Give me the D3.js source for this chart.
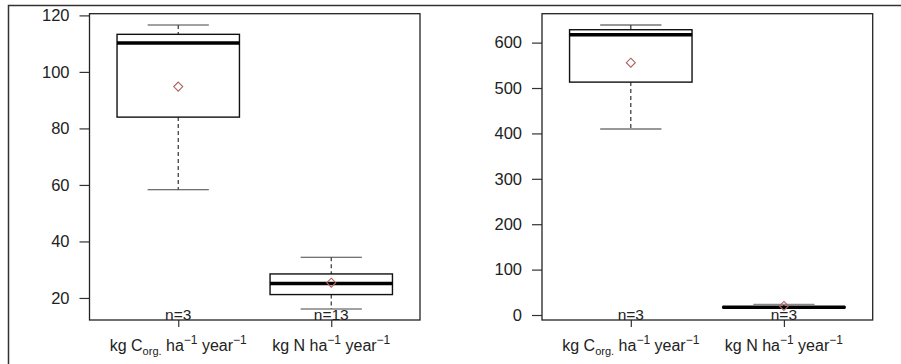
<!DOCTYPE html>
<html>
<head>
<meta charset="utf-8">
<script src="https://cdn.jsdelivr.net/npm/d3@7"></script>
<style>
  html, body { margin: 0; padding: 0; background: #fff; }
  svg { display: block; }
  text { font-family: "Liberation Sans", Arial, sans-serif; fill: #222; }
</style>
</head>
<body>
<svg id="chart" width="901" height="364"></svg>
<script>
// Group positions (1 = organic carbon, 2 = nitrogen)
const groups = [1, 2];

// Left panel: annual loads
const leftWhiskerLow  = [58.3, 16.1];
const leftQ1          = [84.0, 21.2];
const leftMedian      = [110.2, 25.1];
const leftQ3          = [113.3, 28.5];
const leftWhiskerHigh = [116.6, 34.4];
const leftMean        = [94.8, 25.4];
const leftN           = [3, 13];
const leftTicks       = [20, 40, 60, 80, 100, 120];

// Right panel: annual loads
const rightWhiskerLow  = [409.7, 15.5];
const rightQ1          = [513.0, 16.0];
const rightMedian      = [617.4, 17.0];
const rightQ3          = [628.4, 18.0];
const rightWhiskerHigh = [638.8, 23.5];
const rightMean        = [555.7, 20.0];
const rightN           = [3, 3];
const rightTicks       = [0, 100, 200, 300, 400, 500, 600];

const svg = d3.select("#chart");

// Outer frame (top and left edges)
svg.append("path")
  .attr("d", "M8.5,364 L8.5,5.5 L901,5.5")
  .attr("fill", "none").attr("stroke", "#333").attr("stroke-width", 1.5);

function panel(opts) {
  const g = svg.append("g");
  const x = d3.scaleLinear().domain([0.42, 2.58]).range([opts.left, opts.right]);
  const y = d3.scaleLinear().domain(opts.yDomain).range([320, 13.7]);
  const halfBox = 0.4, halfCap = 0.2;

  const stats = groups.map((grp, i) => ({
    grp,
    lo: opts.lo[i], q1: opts.q1[i], med: opts.med[i], q3: opts.q3[i],
    hi: opts.hi[i], mean: opts.mean[i], n: opts.n[i], capColor: opts.capColor[i]
  }));

  // y axis
  const ya = g.append("g")
    .attr("transform", `translate(${opts.left},0)`)
    .call(d3.axisLeft(y).tickValues(opts.ticks).tickSize(10).tickPadding(10));
  ya.attr("font-size", null).attr("font-family", null);
  ya.select(".domain").remove();
  ya.selectAll(".tick line").attr("stroke", "#333").attr("stroke-width", 1.2);
  ya.selectAll(".tick text")
    .attr("font-size", 16.5)
    .style("font-size", "16.5px")
    .style("font-family", "Liberation Sans, Arial, sans-serif")
    .attr("fill", "#2e2e2e");

  // x axis ticks
  const xa = g.append("g")
    .attr("transform", "translate(0,320)")
    .call(d3.axisBottom(x).tickValues(groups).tickSize(7).tickFormat(""));
  xa.select(".domain").remove();
  xa.selectAll(".tick line").attr("stroke", "#333").attr("stroke-width", 1.2);

  const b = g.selectAll("g.box").data(stats).join("g").attr("class", "box");

  // whiskers (dashed)
  b.append("line")
    .attr("x1", d => x(d.grp)).attr("x2", d => x(d.grp))
    .attr("y1", d => y(d.hi)).attr("y2", d => y(d.q3))
    .attr("stroke", "#333").attr("stroke-width", 1.2).attr("stroke-dasharray", "4,3");
  b.append("line")
    .attr("x1", d => x(d.grp)).attr("x2", d => x(d.grp))
    .attr("y1", d => y(d.q1)).attr("y2", d => y(d.lo))
    .attr("stroke", "#333").attr("stroke-width", 1.2).attr("stroke-dasharray", "4,3");

  // whisker caps
  b.append("line")
    .attr("x1", d => x(d.grp - halfCap)).attr("x2", d => x(d.grp + halfCap))
    .attr("y1", d => y(d.hi)).attr("y2", d => y(d.hi))
    .attr("stroke", d => d.capColor).attr("stroke-width", 1.2);
  b.append("line")
    .attr("x1", d => x(d.grp - halfCap)).attr("x2", d => x(d.grp + halfCap))
    .attr("y1", d => y(d.lo)).attr("y2", d => y(d.lo))
    .attr("stroke", d => d.capColor).attr("stroke-width", 1.2);

  // boxes
  b.append("rect")
    .attr("x", d => x(d.grp - halfBox))
    .attr("width", d => x(d.grp + halfBox) - x(d.grp - halfBox))
    .attr("y", d => y(d.q3))
    .attr("height", d => Math.max(0.5, y(d.q1) - y(d.q3)))
    .attr("fill", "#fff").attr("stroke", "#111").attr("stroke-width", 1.4);

  // medians
  b.append("line")
    .attr("x1", d => x(d.grp - halfBox)).attr("x2", d => x(d.grp + halfBox))
    .attr("y1", d => y(d.med)).attr("y2", d => y(d.med))
    .attr("stroke", "#000").attr("stroke-width", 3.5);

  // means (open diamonds)
  b.append("path")
    .attr("transform", d => `translate(${x(d.grp)},${y(d.mean)})`)
    .attr("d", "M0,-4.5 L4.5,0 L0,4.5 L-4.5,0 Z")
    .attr("fill", "none").attr("stroke", "#b0605e").attr("stroke-width", 1.1);

  // sample sizes
  b.append("text")
    .attr("x", d => x(d.grp)).attr("y", 319.5)
    .attr("text-anchor", "middle")
    .style("font-size", "15.5px")
    .text(d => `n=${d.n}`);

  // plot frame
  g.append("rect")
    .attr("x", opts.left).attr("y", 13.7)
    .attr("width", opts.right - opts.left).attr("height", 320 - 13.7)
    .attr("fill", "none").attr("stroke", "#222").attr("stroke-width", 1.3);

  // category labels with sub/superscripts
  const labels = [
    [["kg C", 0, 16], ["org.", 4, 11], [" ha", -4, 16], ["\u22121", -7, 12], [" year", 7, 16], ["\u22121", -7, 12]],
    [["kg N ha", 0, 16], ["\u22121", -7, 12], [" year", 7, 16], ["\u22121", -7, 12]]
  ];
  labels.forEach((parts, i) => {
    const t = g.append("text")
      .attr("x", x(groups[i])).attr("y", 351)
      .attr("text-anchor", "middle");
    parts.forEach(([s, dy, fs]) => {
      t.append("tspan").attr("dy", dy).style("font-size", fs + "px").text(s);
    });
  });
}

panel({
  left: 89.5, right: 420,
  yDomain: [12.2, 120.6], ticks: leftTicks,
  lo: leftWhiskerLow, q1: leftQ1, med: leftMedian, q3: leftQ3, hi: leftWhiskerHigh,
  mean: leftMean, n: leftN, capColor: ["#444", "#444"]
});

panel({
  left: 542, right: 872.7,
  yDomain: [-11, 663.7], ticks: rightTicks,
  lo: rightWhiskerLow, q1: rightQ1, med: rightMedian, q3: rightQ3, hi: rightWhiskerHigh,
  mean: rightMean, n: rightN, capColor: ["#333", "#888"]
});
</script>
</body>
</html>
